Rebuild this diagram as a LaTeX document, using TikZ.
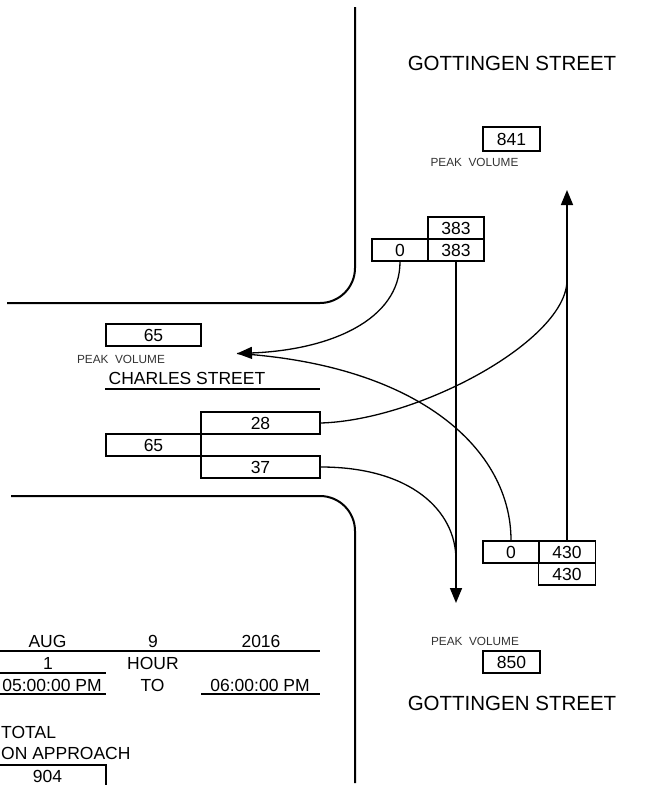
\documentclass[tikz,border=0pt]{standalone}
\usepackage{fontspec}
\setmainfont{Liberation Sans}
\usetikzlibrary{arrows.meta}

\begin{document}
\begin{tikzpicture}[
    x=1pt, y=-1pt,
    font=\fontsize{17.5}{19}\selectfont,
    volbox/.style={rectangle, draw=black, line width=1.6pt, minimum height=22pt,
      inner sep=0pt, align=center},
    smallbox/.style={volbox, minimum width=56pt},
    widebox/.style={volbox, minimum width=119pt},
    midbox/.style={volbox, minimum width=95pt},
    street/.style={inner sep=0pt, font=\fontsize{20.5}{22}\selectfont},
    peaklbl/.style={inner sep=0pt, text=black!80, font=\fontsize{11.8}{13}\selectfont},
    datelbl/.style={inner sep=0pt},
    curb/.style={line width=2pt},
    rule/.style={line width=1.8pt},
    arrow/.style={-{Triangle[length=15pt, width=12pt]}, line width=1.6pt},
    flow/.style={line width=1.3pt},
  ]
  \useasboundingbox (0,0) rectangle (660,785);
  \clip (0,0) rectangle (660,785);

  % curbs
  \draw[curb, rounded corners=35pt] (355,7) -- (355,303) -- (7,303);
  \draw[curb, rounded corners=35pt] (11,496) -- (355,496) -- (355,783);

  % north approach
  \node[street]  (nname)  at (512,63)    {GOTTINGEN STREET};
  \node[volbox, minimum width=57pt, minimum height=24pt] (npeak) at (511.5,139) {841};
  \node[peaklbl] (nplbl)  at (474.5,162) {PEAK\ \ VOLUME};
  \node[smallbox] (nin)   at (456,228)   {383};
  \node[smallbox] (nleft) at (400,250)   {0};
  \node[smallbox] (nthru) at (456,250)   {383};

  % west approach
  \node[midbox]  (wpeak)  at (153.5,335) {65};
  \node[peaklbl] (wplbl)  at (121,359)   {PEAK\ \ VOLUME};
  \node[inner sep=0pt] (wname) at (187,378) {CHARLES STREET};
  \draw[rule] (105,389) -- (320,389);
  \node[widebox] (wleft)  at (260.5,423) {28};
  \node[midbox]  (wtot)   at (153.5,445) {65};
  \node[widebox] (wright) at (260.5,467) {37};

  % south approach
  \node[smallbox] (sleft) at (511,552)   {0};
  \node[volbox, minimum width=57pt] (sthru) at (567,552) {430};
  \node[volbox, minimum width=57pt] (sout)  at (567,574) {430};
  \node[peaklbl] (splbl)  at (475,641)   {PEAK\ \ VOLUME};
  \node[volbox, minimum width=57pt] (speak) at (511.5,662) {850};
  \node[street]  (sname)  at (512,703)   {GOTTINGEN STREET};

  % date and period
  \node[datelbl] (dmonth) at (47.5,641) {AUG};
  \node[datelbl] (dday)   at (153,641)  {9};
  \node[datelbl] (dyear)  at (261,641)  {2016};
  \draw[rule] (0,651) -- (320,651);
  \node[datelbl] (dhours) at (48,663)   {1};
  \node[datelbl] (dhour)  at (153,663)  {HOUR};
  \draw[rule] (0,673) -- (106,673);
  \node[datelbl] (dstart) at (52,685)   {05:00:00 PM};
  \node[datelbl] (dto)    at (152.5,685) {TO};
  \node[datelbl] (dend)   at (260,685)  {06:00:00 PM};
  \draw[rule] (0,694) -- (106,694);
  \draw[rule] (201,694) -- (320,694);
  \node[datelbl, anchor=west] (ttot) at (1,732)  {TOTAL};
  \node[datelbl, anchor=west] (tapp) at (1,753) {ON APPROACH};
  \node[volbox, minimum width=117pt] (tot) at (47.5,776) {904};

  % movements
  \coordinate (sarrow) at (456,603);
  \coordinate (narrow) at (567,190);
  \coordinate (warrow) at (237,353.5);
  \coordinate (nmerge) at (567,280);
  \coordinate (smerge) at (456,560);

  \draw[arrow] (nthru.south) -- (sarrow);
  \draw[arrow] (sthru.north) -- (narrow);
  \draw[flow] (sleft.north) .. controls (511,450) and (420,365) .. (warrow);
  \draw[arrow, line width=1.3pt] (nleft.south) .. controls (400,320) and (330,350) .. (warrow);
  \draw[flow] (wleft.east) .. controls (420,420) and (567,340) .. (nmerge);
  \draw[flow] (wright.east) .. controls (410,467) and (456,510) .. (smerge);
\end{tikzpicture}
\end{document}
